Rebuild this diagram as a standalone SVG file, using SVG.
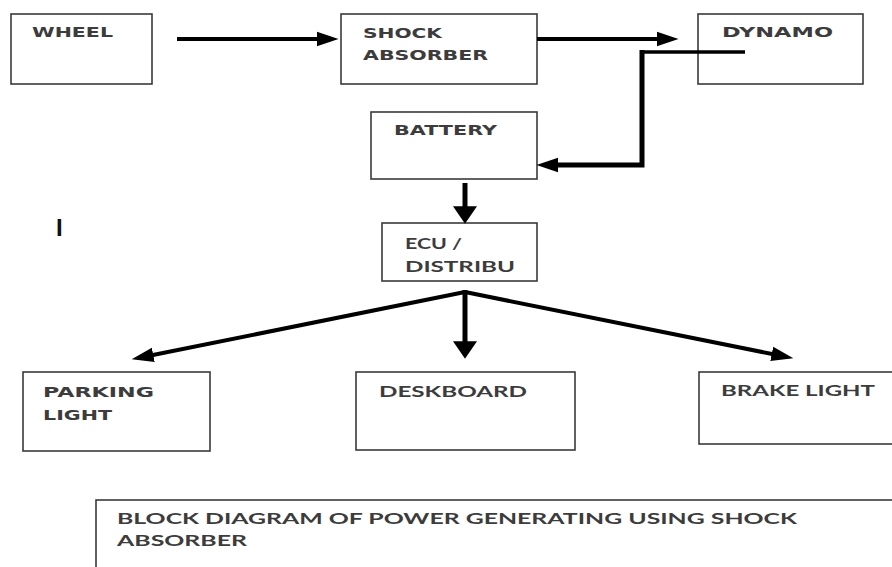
<svg xmlns="http://www.w3.org/2000/svg" width="892" height="567" viewBox="0 0 892 567">
<style>
.box{fill:#fff;stroke:#3a3a3a;stroke-width:1.6}
.t1{font-family:"DejaVu Sans","Liberation Sans",sans-serif;font-weight:bold;font-size:14px;fill:#3c3c3c}
.t2{font-family:"Lato","Open Sans","Liberation Sans",sans-serif;font-weight:bold;font-size:15px;fill:#3c3c3c}
.c{fill:none;stroke:#000;stroke-linejoin:miter}
</style>
<defs>
<marker id="ah" markerUnits="userSpaceOnUse" markerWidth="22" markerHeight="16" refX="10" refY="7" orient="auto" viewBox="0 0 21 14">
<path d="M0,0 L21,7 L0,14 Z" fill="#000"/>
</marker>
<marker id="ahb" markerUnits="userSpaceOnUse" markerWidth="24" markerHeight="24" refX="8" refY="11" orient="auto" viewBox="0 0 16 22">
<path d="M0,0 L16,11 L0,22 Z" fill="#000"/>
</marker>
</defs>
<rect width="892" height="567" fill="#fff"/>

<g id="wheel"><rect class="box" x="11" y="14" width="141" height="70"/><text class="t1" x="32" y="37" textLength="81" lengthAdjust="spacingAndGlyphs">WHEEL</text></g>
<g id="shock"><rect class="box" x="341" y="14" width="196" height="70"/><text class="t1" x="363" y="38" textLength="79" lengthAdjust="spacingAndGlyphs">SHOCK</text><text class="t1" x="363" y="60" textLength="125" lengthAdjust="spacingAndGlyphs">ABSORBER</text></g>
<g id="dynamo"><rect class="box" x="698" y="14" width="165" height="70"/><text class="t1" x="722" y="37" textLength="111" lengthAdjust="spacingAndGlyphs">DYNAMO</text></g>
<g id="battery"><rect class="box" x="371" y="112" width="166" height="67"/><text class="t1" x="394" y="135" textLength="103" lengthAdjust="spacingAndGlyphs">BATTERY</text></g>
<g id="ecu"><rect class="box" x="382" y="223" width="155" height="58"/><text class="t2" x="405" y="249" textLength="57" lengthAdjust="spacingAndGlyphs">ECU /</text><text class="t2" x="405" y="272" textLength="110" lengthAdjust="spacingAndGlyphs">DISTRIBU</text></g>
<g id="parking"><rect class="box" x="23" y="372" width="187" height="79"/><text class="t1" x="43" y="397" textLength="111" lengthAdjust="spacingAndGlyphs">PARKING</text><text class="t1" x="43" y="420" textLength="69" lengthAdjust="spacingAndGlyphs">LIGHT</text></g>
<g id="deskboard"><rect class="box" x="356" y="372" width="219" height="78"/><text class="t2" x="379" y="397" textLength="148" lengthAdjust="spacingAndGlyphs">DESKBOARD</text></g>
<g id="brake"><rect class="box" x="699" y="372" width="200" height="72"/><text class="t2" x="721" y="396" textLength="154" lengthAdjust="spacingAndGlyphs">BRAKE LIGHT</text></g>
<g id="caption"><rect class="box" x="96" y="500" width="820" height="100"/><text class="t2" x="117" y="524" textLength="680" lengthAdjust="spacingAndGlyphs">BLOCK DIAGRAM OF POWER GENERATING USING SHOCK</text><text class="t2" x="117" y="546" textLength="130" lengthAdjust="spacingAndGlyphs">ABSORBER</text></g>
<g id="mark"><text x="56" y="236" font-family="Liberation Sans, sans-serif" font-weight="bold" font-size="24" fill="#111">I</text></g>

<g id="connectors">
<line class="c" x1="177" y1="39" x2="327" y2="39" stroke-width="4" marker-end="url(#ah)"/>
<line class="c" x1="537" y1="39" x2="667" y2="39" stroke-width="4" marker-end="url(#ah)"/>
<polyline class="c" points="745,52 642,52" stroke-width="3.5"/>
<polyline class="c" points="642,50 642,165 548,165" stroke-width="5" marker-end="url(#ah)"/>
<line class="c" x1="465" y1="183" x2="465" y2="215" stroke-width="5" marker-end="url(#ahb)"/>
<line class="c" x1="465" y1="292" x2="143" y2="357" stroke-width="4" marker-end="url(#ah)"/>
<line class="c" x1="465" y1="290" x2="465" y2="350" stroke-width="5" marker-end="url(#ahb)"/>
<line class="c" x1="465" y1="292" x2="782" y2="356" stroke-width="4" marker-end="url(#ah)"/>
</g>
</svg>
